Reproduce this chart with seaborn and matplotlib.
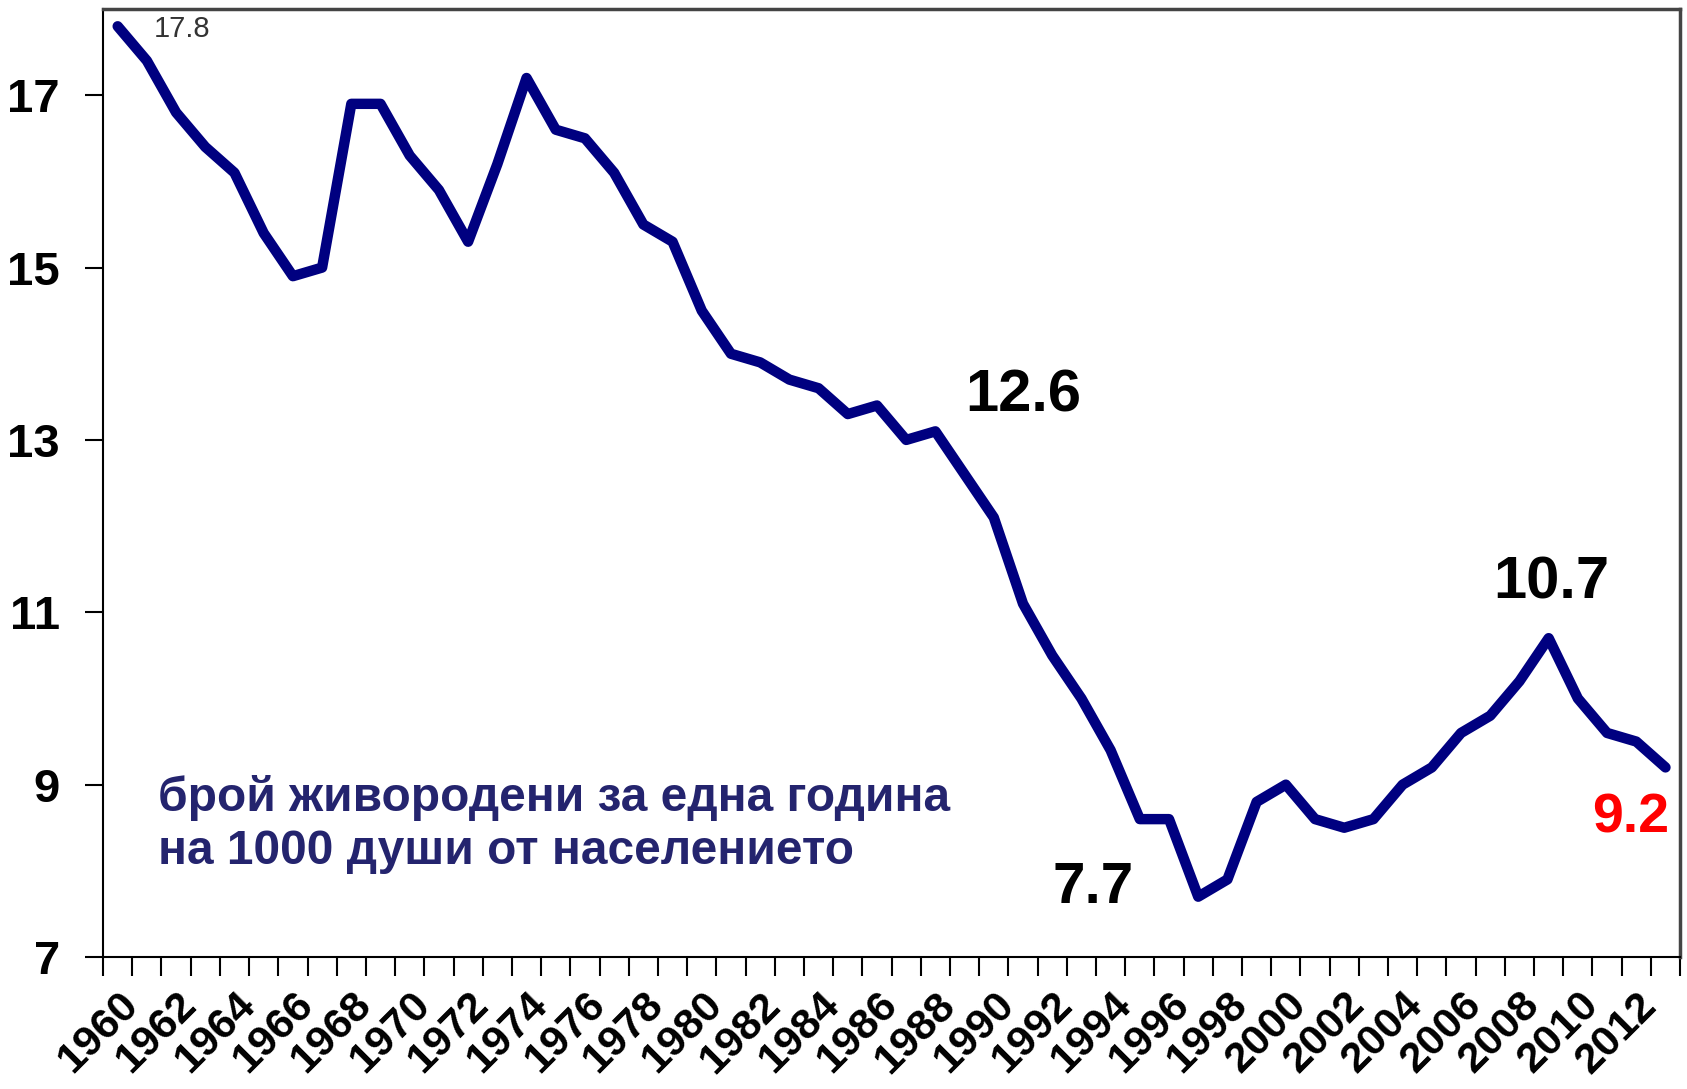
import numpy as np
import pandas as pd
import seaborn as sns
import matplotlib.pyplot as plt
from matplotlib.ticker import FixedLocator

years = list(range(1960, 2014))
birth_rate = [17.8, 17.4, 16.8, 16.4, 16.1, 15.4, 14.9, 15.0, 16.9, 16.9,
              16.3, 15.9, 15.3, 16.2, 17.2, 16.6, 16.5, 16.1, 15.5, 15.3,
              14.5, 14.0, 13.9, 13.7, 13.6, 13.3, 13.4, 13.0, 13.1, 12.6,
              12.1, 11.1, 10.5, 10.0, 9.4, 8.6, 8.6, 7.7, 7.9, 8.8,
              9.0, 8.6, 8.5, 8.6, 9.0, 9.2, 9.6, 9.8, 10.2, 10.7,
              10.0, 9.6, 9.5, 9.2]
label_years = list(range(1960, 2013, 2))
y_ticks = [7, 9, 11, 13, 15, 17]
note = "брой живородени за една година\nна 1000 души от населението"

df = pd.DataFrame({'year': years, 'rate': birth_rate})

sns.set_style('white')
plt.rcParams['font.family'] = ['Liberation Sans', 'DejaVu Sans']
plt.rcParams['text.color'] = 'black'
plt.rcParams['xtick.color'] = 'black'
plt.rcParams['ytick.color'] = 'black'

fig = plt.figure(figsize=(16.87, 10.89), dpi=100)
ax = fig.add_axes([0.0611, 0.1212, 0.9348, 0.8705])

sns.lineplot(data=df, x='year', y='rate', color='#000080', linewidth=7.5,
             solid_capstyle='round', solid_joinstyle='round', ax=ax)

ax.set_xlim(1959.5, 2013.5)
ax.set_ylim(7, 18)
ax.set_xlabel('')
ax.set_ylabel('')

ax.set_yticks(y_ticks)
ax.set_yticklabels([str(v) for v in y_ticks], fontsize=34, fontweight='bold')
ax.tick_params(axis='y', direction='out', length=13, width=1.5, pad=18, left=True)

ax.set_xticks(label_years)
ax.set_xticklabels([str(y) for y in label_years], fontsize=31, fontweight='bold',
                   rotation=45, ha='right', rotation_mode='anchor')
ax.xaxis.set_minor_locator(FixedLocator(np.arange(1959.5, 2014, 1.0)))
ax.tick_params(axis='x', which='major', length=0, pad=20)
ax.tick_params(axis='x', which='minor', direction='out', length=14, width=1.5, bottom=True)

for side in ['left', 'bottom']:
    ax.spines[side].set_color('black')
    ax.spines[side].set_linewidth(1.5)
for side in ['top', 'right']:
    ax.spines[side].set_color('#444444')
    ax.spines[side].set_linewidth(2.5)

ax.text(1962.2, 17.77, '17.8', fontsize=21, color='#333333', ha='center', va='center')
ax.text(1991.0, 13.51, '12.6', fontsize=43, fontweight='bold', color='black', ha='center', va='center')
ax.text(2009.1, 11.34, '10.7', fontsize=43, fontweight='bold', color='black', ha='center', va='center')
ax.text(1993.4, 7.80, '7.7', fontsize=42, fontweight='bold', color='black', ha='center', va='center')
ax.text(2011.8, 8.61, '9.2', fontsize=40, fontweight='bold', color='red', ha='center', va='center')

ax.text(0.035, 0.14, note, transform=ax.transAxes, fontsize=34.5, fontweight='bold',
        color='#24246e', ha='left', va='center', linespacing=1.22)

plt.savefig('out.png', dpi=100)
